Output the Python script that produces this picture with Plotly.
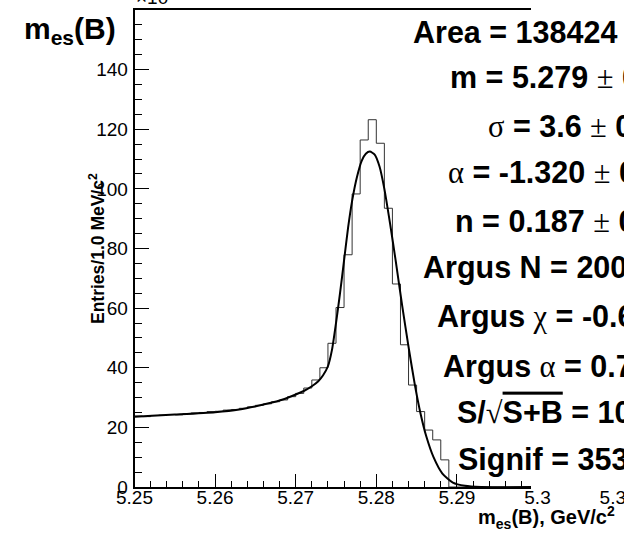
import plotly.graph_objects as go

# ---------------- data ----------------
BIN_LOW = 5.25
BIN_WIDTH = 0.001
hist_counts = [23.8, 23.6, 24.0, 24.1, 24.3, 24.2, 24.6, 24.8, 25.0, 25.3,
               25.4, 25.8, 26.0, 26.4, 26.9, 27.4, 27.9, 28.6, 29.2, 30.3,
               31.4, 33.2, 35.9, 40.0, 48.2, 60.2, 77.9, 98.3, 116.4, 123.2,
               115.3, 93.5, 68.1, 47.7, 34.2, 25.3, 19.1, 15.8, 9.1, 0.0,
               0.0, 0.0, 0.0, 0.0, 0.0, 0.0, 0.0, 0.0, 0.0, 0.0]

fit_x = [5.2500, 5.2550, 5.2600, 5.2630, 5.2656, 5.2680, 5.2697, 5.2710,
         5.2720, 5.2728, 5.2734, 5.2740, 5.2745, 5.2750, 5.2755, 5.2760,
         5.2765, 5.2770, 5.2776, 5.2782, 5.2787, 5.2792, 5.2798, 5.2804,
         5.2810, 5.2817, 5.2824, 5.2832, 5.2840, 5.2848, 5.2855, 5.2862,
         5.2871, 5.2882, 5.2895, 5.2910, 5.2930, 5.3000]
fit_y = [23.6, 24.3, 25.1, 26.0, 27.4, 29.0, 30.7, 32.2,
         33.8, 35.5, 37.5, 40.5, 46.0, 55.0, 65.0, 76.0,
         87.0, 96.0, 104.0, 109.5, 111.8, 112.5, 111.5, 107.5,
         100.0, 88.5, 76.0, 61.0, 47.0, 34.0, 24.5, 17.0,
         10.0, 4.5, 1.5, 0.4, 0.0, 0.0]

x_tick_values = [5.25, 5.26, 5.27, 5.28, 5.29, 5.30, 5.31]
x_tick_labels = ["5.25", "5.26", "5.27", "5.28", "5.29", "5.3", "5.31"]
y_tick_values = [0, 20, 40, 60, 80, 100, 120, 140]

SYM = "<span style=\"font-family:'Liberation Serif';font-weight:normal\">{}</span>"
stat_lines = [
    "<b>Area = 138424</b> " + SYM.format("±") + " <b>412</b>",
    "<b>m = 5.279</b> " + SYM.format("±") + " <b>0.000</b>",
    SYM.format("σ") + "<b> = 3.6</b> " + SYM.format("±") + " <b>0.0</b>",
    SYM.format("α") + "<b> = -1.320</b> " + SYM.format("±") + " <b>0.010</b>",
    "<b>n = 0.187</b> " + SYM.format("±") + " <b>0.005</b>",
    "<b>Argus N = 20000</b> " + SYM.format("±") + " <b>200</b>",
    "<b>Argus </b>" + SYM.format("χ") + "<b> = -0.62</b>",
    "<b>Argus </b>" + SYM.format("α") + "<b> = 0.71</b>",
    "<b>S/</b>" + SYM.format("√") + "<b><span style=\"text-decoration:overline\">S+B</span> = 106</b>",
    "<b>Signif = 353.2</b>",
]
stat_left_px = [413, 450, 488, 448, 455, 423, 437, 443, 457, 458]
stat_y_px = [35, 80, 129, 175, 224, 270, 319, 369, 415, 462]

# ---------------- layout geometry ----------------
W, H = 641, 538
CLIP_R = 624            # drawing is cut off here
X0_PX, Y0_PX = 134.5, 487.0
FRAME_R_PX, FRAME_T_PX = 531.0, 10.0
PX_PER_GEV = 8060.0
Y_MAX = 160.0
X_LABEL_Y_PX = 499
FONT = "Liberation Sans, Arial, Helvetica, sans-serif"


def px_of_x(v):
    return X0_PX + (v - BIN_LOW) * PX_PER_GEV


x_max_visible = BIN_LOW + (FRAME_R_PX - X0_PX) / PX_PER_GEV

# histogram outline (step)
edges = [BIN_LOW + i * BIN_WIDTH for i in range(len(hist_counts) + 1)]
hx = [edges[0]] + edges
hy = [0.0] + hist_counts + [hist_counts[-1]]

fig = go.Figure()
fig.add_trace(go.Scatter(x=hx, y=hy, mode="lines", line_shape="hv",
                         line=dict(color="#333333", width=1),
                         hoverinfo="skip", showlegend=False))
fig.add_trace(go.Scatter(x=fit_x, y=fit_y, mode="lines", line_shape="spline",
                         line=dict(color="black", width=2, smoothing=0.6),
                         hoverinfo="skip", showlegend=False))

# overlay in pixel coordinates for text that is cut at the picture edge
fig.add_trace(go.Scatter(x=stat_left_px, y=stat_y_px, mode="text",
                         text=stat_lines, textposition="middle right",
                         textfont=dict(family=FONT, size=30.5, color="black"),
                         cliponaxis=True, xaxis="x2", yaxis="y2",
                         hoverinfo="skip", showlegend=False))
fig.add_trace(go.Scatter(x=[px_of_x(v) for v in x_tick_values],
                         y=[X_LABEL_Y_PX] * len(x_tick_values), mode="text",
                         text=x_tick_labels, textposition="middle center",
                         textfont=dict(family=FONT, size=19, color="black"),
                         cliponaxis=True, xaxis="x2", yaxis="y2",
                         hoverinfo="skip", showlegend=False))

fig.update_layout(
    width=W, height=H,
    margin=dict(l=0, r=W - CLIP_R, t=0, b=0, pad=0, autoexpand=False),
    paper_bgcolor="white", plot_bgcolor="rgba(0,0,0,0)",
    font=dict(family=FONT, size=19, color="black"),
    xaxis=dict(domain=[X0_PX / CLIP_R, FRAME_R_PX / CLIP_R],
               range=[BIN_LOW, x_max_visible], anchor="y",
               showgrid=False, zeroline=False, automargin=False,
               showline=True, linecolor="black", linewidth=1.5, mirror=True,
               ticks="inside", ticklen=13, tickwidth=1, tickcolor="black",
               tickvals=x_tick_values[:5], showticklabels=False,
               minor=dict(dtick=0.002, tick0=BIN_LOW, ticks="inside", ticklen=6,
                          tickwidth=1, tickcolor="black")),
    yaxis=dict(domain=[(H - Y0_PX) / H, (H - FRAME_T_PX) / H],
               range=[0, Y_MAX], anchor="x", automargin=False,
               showgrid=False, zeroline=False,
               showline=True, linecolor="black", linewidth=1.5, mirror=False,
               ticks="inside", ticklen=15, tickwidth=1, tickcolor="black",
               tickvals=y_tick_values, ticklabelstandoff=1,
               minor=dict(dtick=5, tick0=0, ticks="inside", ticklen=8,
                          tickwidth=1, tickcolor="black")),
    xaxis2=dict(domain=[0, 1], range=[0, CLIP_R], anchor="y2", visible=False,
                automargin=False),
    yaxis2=dict(domain=[0, 1], range=[H, 0], anchor="x2", visible=False,
                automargin=False),
    annotations=[
        dict(xref="x2", yref="y2", x=22, y=30, xanchor="left", yanchor="middle",
             text="<b>m<sub>es</sub>(B)</b>", showarrow=False,
             font=dict(family=FONT, size=30, color="black")),
        dict(xref="x2", yref="y2", x=97, y=249, xanchor="center", yanchor="middle",
             text="<b>Entries/1.0 MeV/c<sup>2</sup></b>", textangle=-90,
             showarrow=False, font=dict(family=FONT, size=17.5, color="black")),
        dict(xref="x2", yref="y2", x=617, y=517, xanchor="right", yanchor="middle",
             text="<b>m<sub>es</sub>(B), GeV/c<sup>2</sup></b>", showarrow=False,
             font=dict(family=FONT, size=20, color="black")),
        dict(xref="x2", yref="y2", x=134, y=10, xanchor="left", yanchor="bottom",
             text="×10<sup>3</sup>", showarrow=False,
             font=dict(family=FONT, size=19, color="black")),
    ],
)

fig.write_html("out.html")
